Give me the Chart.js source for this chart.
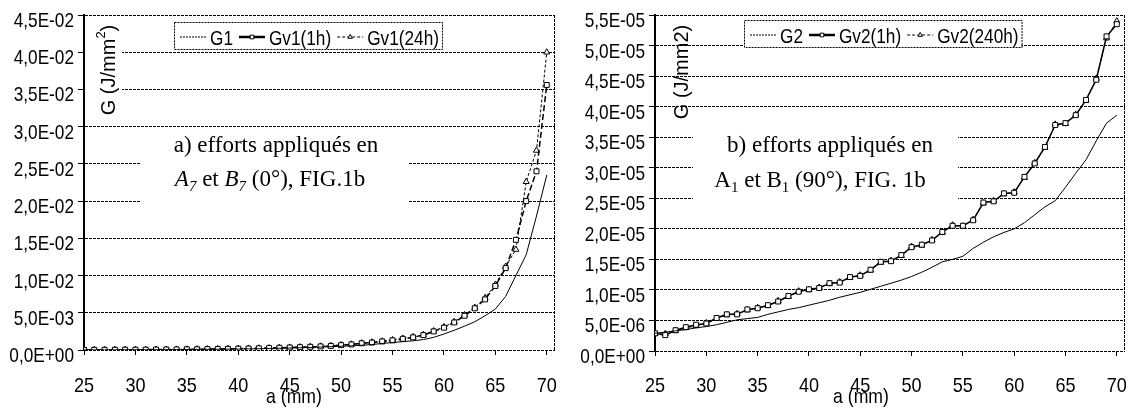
<!DOCTYPE html>
<html><head><meta charset="utf-8">
<script src="https://cdn.jsdelivr.net/npm/chart.js@4.4.1/dist/chart.umd.min.js"></script>
<style>
html,body{margin:0;padding:0;background:#fff;width:1131px;height:410px;overflow:hidden}
canvas{position:absolute;top:0}
#c1{left:0}
#c2{left:565px}
</style></head><body>
<canvas id="c1" width="565" height="410"></canvas>
<canvas id="c2" width="566" height="410"></canvas>
<script>
// ---------- DATA ----------
const aValues = [25,26,27,28,29,30,31,32,33,34,35,36,37,38,39,40,41,42,43,44,45,46,47,48,49,50,51,52,53,54,55,56,57,58,59,60,61,62,63,64,65,66,67,68,69,70];

const seriesLeftNames = ['G1','Gv1(1h)','Gv1(24h)'];
const g1 = [0.00001,0.00001,0.00002,0.00002,0.00003,0.00003,0.00004,0.00004,0.00005,0.00006,0.00007,0.00008,0.00009,0.00010,0.00011,0.00013,0.00015,0.00017,0.00020,0.00023,0.00026,0.00030,0.00034,0.00039,0.00045,0.00050,0.00057,0.00064,0.00073,0.00088,0.00100,0.00112,0.00124,0.00140,0.00170,0.00215,0.00265,0.00320,0.00380,0.00460,0.00550,0.00720,0.01000,0.01280,0.01800,0.02350];
const gv1_1h = [0.00002,0.00002,0.00003,0.00003,0.00004,0.00004,0.00005,0.00006,0.00007,0.00008,0.00009,0.00010,0.00012,0.00014,0.00016,0.00018,0.00020,0.00023,0.00026,0.00030,0.00034,0.00038,0.00043,0.00048,0.00055,0.00065,0.00075,0.00090,0.00100,0.00115,0.00130,0.00150,0.00170,0.00200,0.00250,0.00300,0.00370,0.00460,0.00560,0.00680,0.00860,0.01100,0.01480,0.02000,0.02400,0.03560];
const gv1_24h = [0.00002,0.00003,0.00003,0.00004,0.00004,0.00005,0.00005,0.00006,0.00007,0.00008,0.00010,0.00011,0.00012,0.00014,0.00016,0.00019,0.00021,0.00024,0.00027,0.00031,0.00035,0.00039,0.00044,0.00050,0.00057,0.00067,0.00078,0.00092,0.00104,0.00118,0.00135,0.00155,0.00176,0.00205,0.00255,0.00310,0.00380,0.00470,0.00570,0.00700,0.00880,0.01120,0.01350,0.02260,0.02680,0.04000];

const seriesRightNames = ['G2','Gv2(1h)','Gv2(240h)'];
const g2 = [2.9e-6,3.1e-6,3.3e-6,3.5e-6,3.8e-6,4.0e-6,4.3e-6,4.7e-6,5.1e-6,5.3e-6,5.5e-6,6.0e-6,6.4e-6,6.8e-6,7.1e-6,7.5e-6,7.9e-6,8.3e-6,8.8e-6,9.2e-6,9.6e-6,1.01e-5,1.06e-5,1.11e-5,1.16e-5,1.22e-5,1.29e-5,1.37e-5,1.46e-5,1.50e-5,1.55e-5,1.68e-5,1.78e-5,1.87e-5,1.94e-5,2.00e-5,2.10e-5,2.23e-5,2.36e-5,2.46e-5,2.68e-5,2.91e-5,3.13e-5,3.44e-5,3.73e-5,3.86e-5];
const gv2_1h = [2.9e-6,2.6e-6,3.4e-6,3.9e-6,4.3e-6,4.5e-6,5.4e-6,6.0e-6,6.0e-6,6.8e-6,7.0e-6,7.5e-6,8.1e-6,9.0e-6,9.7e-6,1.01e-5,1.03e-5,1.11e-5,1.12e-5,1.21e-5,1.23e-5,1.33e-5,1.46e-5,1.47e-5,1.57e-5,1.70e-5,1.74e-5,1.81e-5,1.95e-5,2.05e-5,2.05e-5,2.14e-5,2.43e-5,2.45e-5,2.58e-5,2.59e-5,2.85e-5,3.07e-5,3.34e-5,3.70e-5,3.73e-5,3.86e-5,4.11e-5,4.44e-5,5.15e-5,5.35e-5];
const gv2_240h = [2.8e-6,2.8e-6,3.3e-6,3.8e-6,4.1e-6,4.6e-6,5.3e-6,5.9e-6,6.1e-6,6.7e-6,7.1e-6,7.4e-6,8.2e-6,8.9e-6,9.8e-6,1.00e-5,1.04e-5,1.10e-5,1.13e-5,1.20e-5,1.24e-5,1.32e-5,1.45e-5,1.48e-5,1.56e-5,1.71e-5,1.73e-5,1.82e-5,1.94e-5,2.06e-5,2.04e-5,2.15e-5,2.42e-5,2.46e-5,2.57e-5,2.60e-5,2.84e-5,3.08e-5,3.33e-5,3.71e-5,3.72e-5,3.87e-5,4.10e-5,4.46e-5,5.12e-5,5.40e-5];

const xTickValues = [25,30,35,40,45,50,55,60,65,70];
const xTickLabels = ['25','30','35','40','45','50','55','60','65','70'];
const yTicksLeftValues = [0,0.005,0.010,0.015,0.020,0.025,0.030,0.035,0.040,0.045];
const yTicksLeftLabels = ['0,0E+00','5,0E-03','1,0E-02','1,5E-02','2,0E-02','2,5E-02','3,0E-02','3,5E-02','4,0E-02','4,5E-02'];
const yTicksRightValues = [0,5e-6,1e-5,1.5e-5,2e-5,2.5e-5,3e-5,3.5e-5,4e-5,4.5e-5,5e-5,5.5e-5];
const yTicksRightLabels = ['0,0E+00','5,0E-06','1,0E-05','1,5E-05','2,0E-05','2,5E-05','3,0E-05','3,5E-05','4,0E-05','4,5E-05','5,0E-05','5,5E-05'];

const xTitle = 'a (mm)';
const annotLeft = [
  [{t:'a) efforts appliqués en'}],
  [{t:'A',i:1},{t:'7',i:1,s:1},{t:' et '},{t:'B',i:1},{t:'7',i:1,s:1},{t:' (0°), FIG.1b'}]
];
const annotRight = [
  [{t:'b) efforts appliqués en'}],
  [{t:'A'},{t:'1',s:1},{t:' et B'},{t:'1',s:1},{t:' (90°), FIG. 1b'}]
];
const yTitleLeft = [{t:'G (J/mm'},{t:'2',sup:1},{t:')'}];
const yTitleRight = [{t:'G (J/mm2)'}];

// ---------- RENDERING ----------
const SANS = "'Liberation Sans',Arial,sans-serif";
const SERIF = "'Liberation Serif','Times New Roman',serif";
Chart.defaults.font.family = SANS;
Chart.defaults.color = '#000';

// condensed text: real text drawn with a horizontal squeeze
function narrowText(ctx, text, x, y, align, sx){
  ctx.save();
  ctx.translate(x, y); ctx.scale(sx, 1);
  ctx.textAlign = align;
  ctx.fillText(text, 0, 0);
  ctx.restore();
}

function drawMarker(ctx, style, x, y, r, lw){
  ctx.save(); ctx.setLineDash([]); ctx.lineWidth = lw; ctx.strokeStyle = '#000'; ctx.fillStyle = '#fff';
  ctx.beginPath();
  if (style === 'rect') { const s = r*Math.SQRT1_2; ctx.rect(x-s, y-s, 2*s, 2*s); }
  else if (style === 'triangle') {
    let rad = 0; const T = 2*Math.PI/3;
    ctx.moveTo(x+Math.sin(rad)*r, y-Math.cos(rad)*r); rad += T;
    ctx.lineTo(x+Math.sin(rad)*r, y-Math.cos(rad)*r); rad += T;
    ctx.lineTo(x+Math.sin(rad)*r, y-Math.cos(rad)*r); ctx.closePath();
  }
  ctx.fill(); ctx.stroke(); ctx.restore();
}

function fontOf(r, size, family){
  const sz = (r.s || r.sup) ? Math.round(size*0.65) : size;
  return (r.i ? 'italic ' : '') + sz + 'px ' + family;
}
function drawRuns(ctx, runs, cx, y, size, family){
  const widths = runs.map(r => { ctx.font = fontOf(r, size, family); return ctx.measureText(r.t).width; });
  const total = widths.reduce((a,b)=>a+b,0);
  let x = cx - total/2;
  ctx.textAlign = 'left';
  runs.forEach((r,k) => {
    ctx.font = fontOf(r, size, family);
    let dy = 0;
    if (r.s) dy = size*0.22;
    if (r.sup) dy = -size*0.38;
    ctx.fillText(r.t, x, y+dy);
    x += widths[k];
  });
}

const decor = {
  id: 'decor',
  beforeDatasetsDraw(chart, args, o){
    const ctx = chart.ctx; ctx.save(); ctx.fillStyle = '#fff';
    o.boxes.forEach(b => ctx.fillRect(b[0], b[1], b[2], b[3]));
    ctx.restore();
  },
  afterDatasetsDraw(chart, args, o){
    const ctx = chart.ctx, ca = chart.chartArea;
    const xs = chart.scales.x, ys = chart.scales.y;
    ctx.save();
    // right dotted border
    ctx.strokeStyle = '#000'; ctx.lineWidth = 1; ctx.setLineDash([3,1]);
    ctx.beginPath(); ctx.moveTo(Math.round(ca.right)-0.5, ca.top); ctx.lineTo(Math.round(ca.right)-0.5, ca.bottom); ctx.stroke();
    ctx.setLineDash([]);
    ctx.fillStyle = '#000'; ctx.textBaseline = 'alphabetic';
    // tick labels (condensed sans)
    ctx.font = '21px ' + SANS;
    o.yVals.forEach((v, i) => narrowText(ctx, o.yLabels[i], ca.left - 10, ys.getPixelForValue(v) + 12, 'right', 0.82));
    xTickValues.forEach((v, i) => narrowText(ctx, xTickLabels[i], xs.getPixelForValue(v), 392, 'center', 0.86));
    // x title
    narrowText(ctx, xTitle, o.xTitlePos[0], o.xTitlePos[1], 'center', 0.84);
    // annotation text
    o.annot.forEach((line, k) => drawRuns(ctx, line, o.annotPos[k][0], o.annotPos[k][1], 23, SERIF));
    // y title (rotated)
    ctx.save(); ctx.translate(o.yTitlePos[0], o.yTitlePos[1]); ctx.rotate(-Math.PI/2);
    ctx.textBaseline = 'middle';
    drawRuns(ctx, o.yTitle, 0, 0, 20, SANS);
    ctx.restore();
    // legend
    const L = o.legend, SQ = 0.82;
    ctx.font = '21px ' + SANS; ctx.textBaseline = 'alphabetic';
    const dsets = chart.data.datasets;
    let x = L.x + 6; const ym = L.y + L.h/2;
    const pos = [];
    dsets.forEach(ds => { const w = ctx.measureText(ds.label).width * SQ; pos.push([x, w]); x += 26 + 4 + w + 6; });
    const right = x - 6 + 3;
    ctx.fillStyle = '#fff'; ctx.fillRect(L.x, L.y, right - L.x, L.h);
    ctx.strokeStyle = '#000'; ctx.lineWidth = 1; ctx.setLineDash([2,1]);
    ctx.strokeRect(L.x+0.5, L.y+0.5, right - L.x, L.h);
    dsets.forEach((ds, k) => {
      const sx = pos[k][0];
      ctx.save(); ctx.strokeStyle = '#000'; ctx.lineWidth = ds.legendWidth; ctx.setLineDash(ds.legendDash);
      ctx.beginPath(); ctx.moveTo(sx, ym+1.5); ctx.lineTo(sx+26, ym+1.5); ctx.stroke(); ctx.restore();
      if (ds.pointRadius > 0) drawMarker(ctx, ds.pointStyle, sx+13, ym+1.5, 2.6, 1);
      ctx.fillStyle = '#000';
      narrowText(ctx, ds.label, sx + 30, ym + 9, 'left', SQ);
    });
    ctx.restore();
  }
};

function makeChart(id, names, series, styles, yVals, yLabels, yMax, axisW, padR, xH, deco){
  const datasets = names.map((n, k) => Object.assign({
    label: n,
    data: aValues.map((a, i) => ({x: a, y: series[k][i]})),
    borderColor: '#000', backgroundColor: '#fff',
    pointBorderColor: '#000', pointBackgroundColor: '#fff', pointBorderWidth: 1,
    tension: 0, fill: false
  }, styles[k]));
  deco.yVals = yVals; deco.yLabels = yLabels;
  return new Chart(document.getElementById(id), {
    type: 'line',
    data: {datasets},
    options: {
      responsive: false, animation: false, devicePixelRatio: 1,
      layout: {padding: {left: 0, right: padR, top: 15, bottom: 0}},
      plugins: {legend: {display: false}, tooltip: {enabled: false}, decor: deco},
      scales: {
        x: {
          type: 'linear', min: 25, max: 70.8,
          afterBuildTicks: s => { s.ticks = xTickValues.map(v => ({value: v})); },
          afterFit: s => { s.height = xH; },
          ticks: {display: false},
          grid: {drawOnChartArea: false, drawTicks: true, tickLength: 5, tickColor: '#000', tickWidth: 1},
          border: {display: false}
        },
        y: {
          type: 'linear', min: 0, max: yMax,
          afterBuildTicks: s => { s.ticks = yVals.map(v => ({value: v})); },
          afterFit: s => { s.width = axisW; },
          ticks: {display: false},
          grid: {color: '#000', lineWidth: 1, drawTicks: true, tickLength: 6, tickColor: '#000', tickWidth: 1},
          border: {display: true, color: '#000', width: 2, dash: [3,1]}
        }
      }
    },
    plugins: [decor]
  });
}

const stylesLeft = [
  {borderWidth: 1, borderDash: [], pointRadius: 0, legendDash: [2,1], legendWidth: 1},
  {borderWidth: 1.5, borderDash: [6,3], pointStyle: 'rect', pointRadius: 3.5, legendDash: [], legendWidth: 2.5},
  {borderWidth: 1, borderDash: [3,2], pointStyle: 'triangle', pointRadius: 3.5, legendDash: [3,2], legendWidth: 1}
];
const stylesRight = [
  {borderWidth: 1, borderDash: [], pointRadius: 0, legendDash: [2,1], legendWidth: 1},
  {borderWidth: 1.5, borderDash: [], pointStyle: 'rect', pointRadius: 3.5, legendDash: [], legendWidth: 2.5},
  {borderWidth: 1, borderDash: [3,2], pointStyle: 'triangle', pointRadius: 3.5, legendDash: [3,2], legendWidth: 1}
];

makeChart('c1', seriesLeftNames, [g1, gv1_1h, gv1_24h], stylesLeft, yTicksLeftValues, yTicksLeftLabels, 0.045, 84, 10, 60, {
  boxes: [[85, 18, 37, 101], [140, 130, 269, 85]],
  annot: annotLeft, annotPos: [[276, 152], [270, 186]],
  yTitle: yTitleLeft, yTitlePos: [109, 70],
  xTitlePos: [294, 403],
  legend: {x: 174, y: 22, h: 27}
});
makeChart('c2', seriesRightNames, [g2, gv2_1h, gv2_240h], stylesRight, yTicksRightValues, yTicksRightLabels, 5.5e-5, 90, 6, 59, {
  boxes: [[128, 118, 265, 95]],
  annot: annotRight, annotPos: [[265, 152], [255, 187]],
  yTitle: yTitleRight, yTitlePos: [117, 72],
  xTitlePos: [296, 403],
  legend: {x: 179, y: 20, h: 27}
});
</script>
</body></html>
